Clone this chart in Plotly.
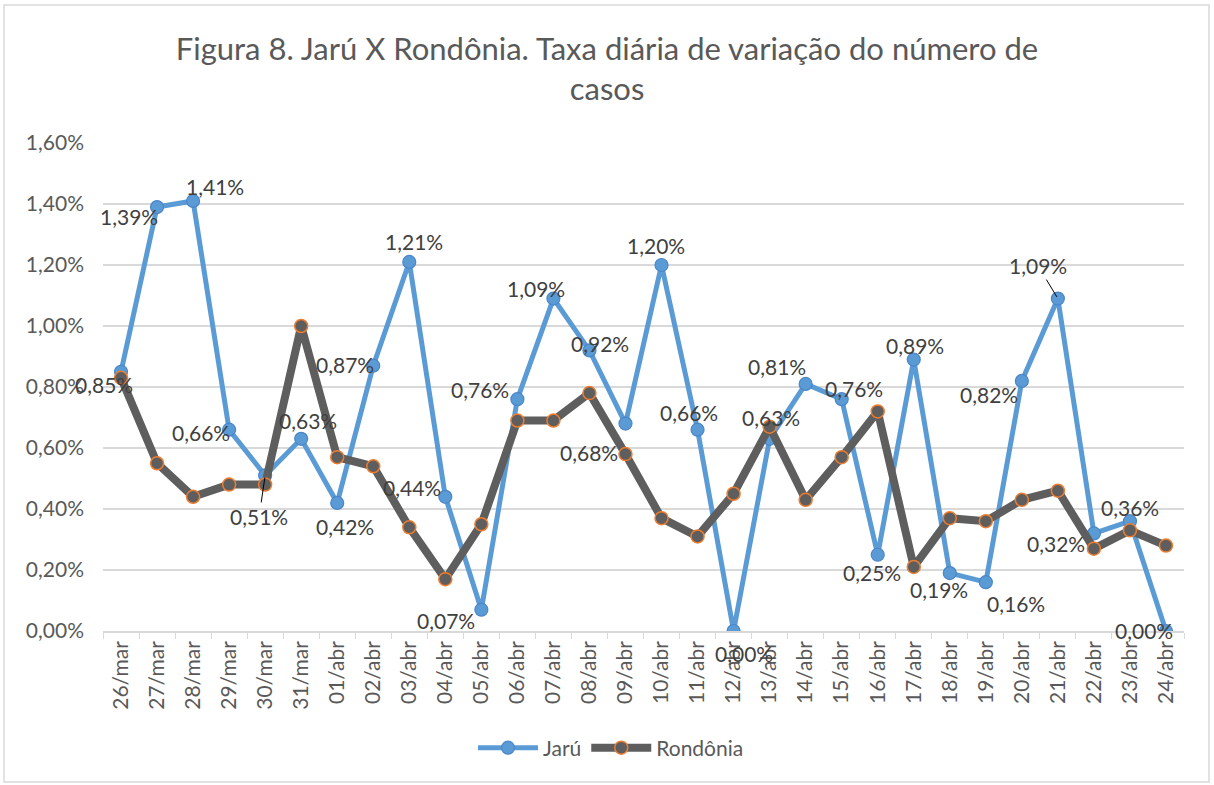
import plotly.graph_objects as go

categories = ["26/mar", "27/mar", "28/mar", "29/mar", "30/mar", "31/mar",
              "01/abr", "02/abr", "03/abr", "04/abr", "05/abr", "06/abr",
              "07/abr", "08/abr", "09/abr", "10/abr", "11/abr", "12/abr",
              "13/abr", "14/abr", "15/abr", "16/abr", "17/abr", "18/abr",
              "19/abr", "20/abr", "21/abr", "22/abr", "23/abr", "24/abr"]

# values in % (daily variation rate)
jaru = [0.85, 1.39, 1.41, 0.66, 0.51, 0.63, 0.42, 0.87, 1.21, 0.44,
        0.07, 0.76, 1.09, 0.92, 0.68, 1.20, 0.66, 0.00, 0.63, 0.81,
        0.76, 0.25, 0.89, 0.19, 0.16, 0.82, 1.09, 0.32, 0.36, 0.00]

rondonia = [0.83, 0.55, 0.44, 0.48, 0.48, 1.00, 0.57, 0.54, 0.34, 0.17,
            0.35, 0.69, 0.69, 0.78, 0.58, 0.37, 0.31, 0.45, 0.67, 0.43,
            0.57, 0.72, 0.21, 0.37, 0.36, 0.43, 0.46, 0.27, 0.33, 0.28]

y_tick_vals = [0.0, 0.2, 0.4, 0.6, 0.8, 1.0, 1.2, 1.4, 1.6]
y_tick_text = ["0,00%", "0,20%", "0,40%", "0,60%", "0,80%", "1,00%",
               "1,20%", "1,40%", "1,60%"]

# label offsets (pixels, dx right, dy down) for Jarú data labels
label_dx = [-17, -28, 22, -28, -6, 7, 8, -28, 5, -33,
            -35, -37, -17, 11, -36, -6, -9, 10, 1, -29,
            12, -6, 1, -11, 30, -33, -20, -38, 0, -22]
label_dy = [13, 9, -14, 3, 41, -18, 24, -1, -20, -9,
            11, -10, -10, -7, 29, -20, -17, 22, -21, -17,
            -11, 18, -14, 16, 21, 14, -33, 10, -14, -1]
leader = [False] * 30
leader[4] = True
leader[26] = True

FONT = "Lato"
TXT = "#595959"
GRID = "#D9D9D9"

fig = go.Figure()

fig.add_trace(go.Scatter(
    x=categories, y=jaru, name="Jarú", mode="lines+markers",
    line=dict(color="#5B9BD5", width=5),
    marker=dict(size=13, color="#5B9BD5", line=dict(color="#4A86C8", width=1.2)),
    hoverinfo="skip",
))
fig.add_trace(go.Scatter(
    x=categories, y=rondonia, name="Rondônia", mode="lines+markers",
    line=dict(color="#5E5E5E", width=8),
    marker=dict(size=13, color="#5E5E5E", line=dict(color="#ED7D31", width=1.5)),
    hoverinfo="skip",
))

annotations = []
for i, (c, v) in enumerate(zip(categories, jaru)):
    txt = f"{v:.2f}%".replace(".", ",")
    if leader[i]:
        annotations.append(dict(
            x=c, y=v, xref="x", yref="y", text=txt, showarrow=True,
            arrowhead=0, arrowwidth=1, arrowcolor="#000000",
            ax=label_dx[i], ay=label_dy[i], standoff=2,
            font=dict(family=FONT, size=21, color="#404040"),
        ))
    else:
        annotations.append(dict(
            x=c, y=v, xref="x", yref="y", text=txt, showarrow=False,
            xshift=label_dx[i], yshift=-label_dy[i],
            font=dict(family=FONT, size=21, color="#404040"),
        ))

L, R, T, B = 103, 30, 143, 154
W, H = 1214, 785
pw, ph = W - L - R, H - T - B

fig.update_layout(
    width=W, height=H,
    margin=dict(l=L, r=R, t=T, b=B),
    paper_bgcolor="white", plot_bgcolor="white",
    font=dict(family=FONT, color=TXT),
    title=dict(
        text="Figura 8. Jarú X Rondônia. Taxa diária de variação do número de<br>casos",
        x=0.5, xanchor="center", y=(H - 60) / H, yanchor="middle",
        font=dict(family=FONT, size=31, color=TXT),
    ),
    showlegend=True,
    legend=dict(
        orientation="h", x=(611 - L) / pw, xanchor="center", y=(631 - 748) / ph, yanchor="middle",
        font=dict(family=FONT, size=21, color=TXT), itemwidth=60,
        traceorder="normal",
    ),
    annotations=annotations,
    shapes=[dict(type="rect", xref="paper", yref="paper",
                 x0=(4 - L) / pw, x1=(1209 - L) / pw,
                 y0=(T + ph - 782) / ph, y1=(T + ph - 5) / ph,
                 line=dict(color=GRID, width=1.5), fillcolor="rgba(0,0,0,0)",
                 layer="below")],
)

fig.update_xaxes(
    type="category", tickangle=-90, tickson="boundaries",
    ticks="outside", ticklen=6, tickcolor=GRID,
    showline=True, linecolor=GRID, linewidth=1.5,
    showgrid=False, tickfont=dict(family=FONT, size=21, color=TXT),
    range=[-0.5, len(categories) - 0.5],
)
fig.update_yaxes(
    range=[0, 1.6], tickvals=y_tick_vals, ticktext=y_tick_text,
    showgrid=True, gridcolor=GRID, gridwidth=1.5, zeroline=False,
    showline=False, ticks="", tickfont=dict(family=FONT, size=21, color=TXT),
    ticklabelstandoff=18,
)

fig.write_html("out.html", config={"displayModeBar": False},
               post_script="document.body.style.margin='0';")
